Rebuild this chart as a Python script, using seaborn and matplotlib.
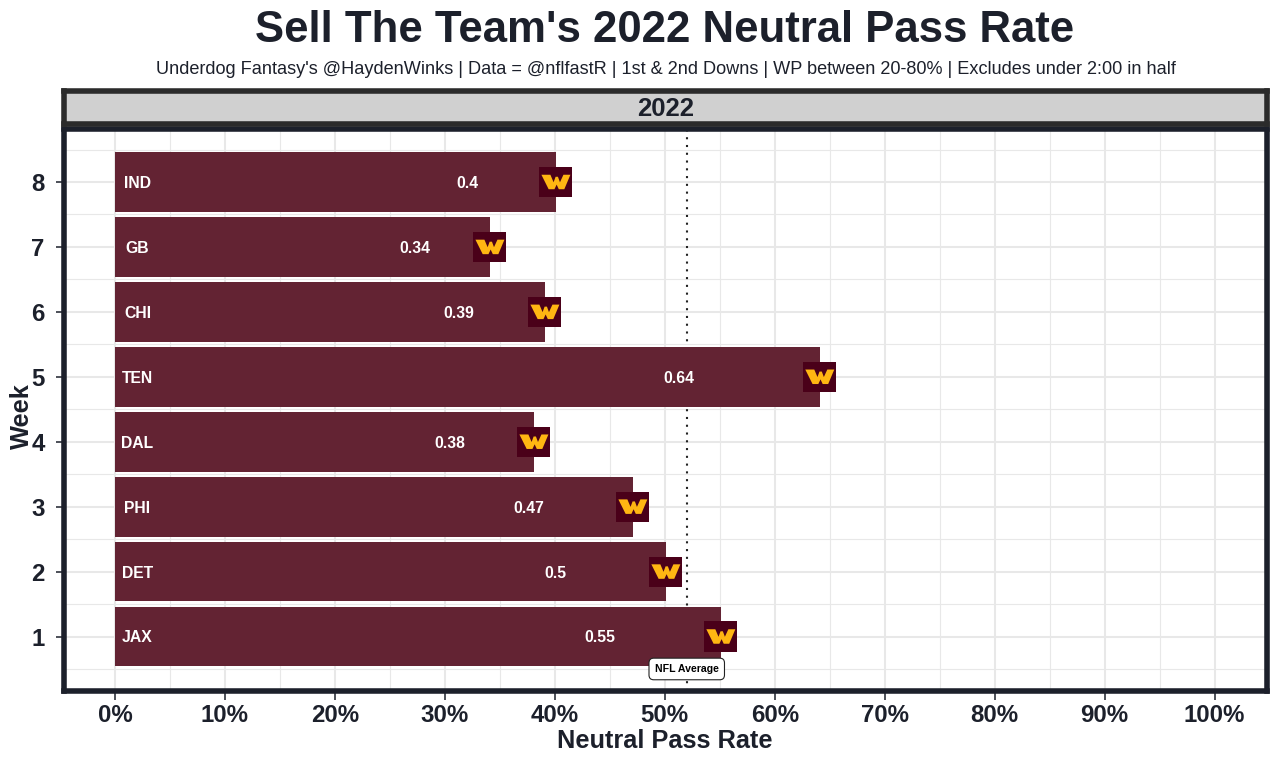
import matplotlib
matplotlib.use("Agg")
import matplotlib.pyplot as plt
from matplotlib.path import Path
import pandas as pd
import seaborn as sns

weeks = [8, 7, 6, 5, 4, 3, 2, 1]
opponents = ["IND", "GB", "CHI", "TEN", "DAL", "PHI", "DET", "JAX"]
pass_rate = [40.1, 34.1, 39.1, 64.1, 38.1, 47.1, 50.1, 55.1]
rate_labels = ["0.4", "0.34", "0.39", "0.64", "0.38", "0.47", "0.5", "0.55"]
nfl_average = 52
x_ticks = list(range(0, 101, 10))
x_tick_labels = [f"{v}%" for v in x_ticks]

INK = "#1c202b"
BAR = "#632333"
GRID = "#e8e8e8"

sns.set_theme(style="white")
plt.rcParams["font.family"] = ["Liberation Sans", "DejaVu Sans"]

W, H = 1280, 764
fig = plt.figure(figsize=(W / 100, H / 100), dpi=100, facecolor="white")
x0, x1, y_top, y_bot = 63.5, 1267, 129.5, 690.5
ax = fig.add_axes([x0 / W, 1 - y_bot / H, (x1 - x0) / W, (y_bot - y_top) / H])

px_per_x = 10.995
px_per_y = 64.93
ax.set_xlim((x0 - 115) / px_per_x, (x1 - 115) / px_per_x)
ax.set_ylim(1 - (y_bot - 636.5) / px_per_y, 1 + (636.5 - y_top) / px_per_y)

ax.set_xticks(x_ticks, x_tick_labels)
ax.set_yticks(sorted(weeks))
ax.set_xticks([v + 5 for v in x_ticks[:-1]], minor=True)
ax.set_yticks([w - 0.5 for w in sorted(weeks)] + [8.5], minor=True)
ax.grid(True, which="major", color=GRID, lw=1.5, zorder=0)
ax.grid(True, which="minor", color=GRID, lw=0.8, zorder=0)
ax.set_axisbelow(True)

df = pd.DataFrame({"week": weeks, "opp": opponents, "rate": pass_rate, "label": rate_labels})
ax.barh(df["week"], df["rate"], height=0.92, color=BAR, lw=0, zorder=2)

ax.axvline(nfl_average, color="#222222", lw=1.5, ls=(0, (1, 2.73)), zorder=1.5)

# team logo: dark square with a gold W, as custom markers placed at each value
box = Path([(-1, -0.91), (1, -0.91), (1, 0.91), (-1, 0.91), (-1, -0.91)], closed=True)
w_mark = Path(
    [(-1, .5), (-.38, .5), (-.16, -.02), (-.02, .36), (.14, .36), (.28, -.02), (.52, .5), (1, .5),
     (.58, -.5), (.2, -.5), (.05, -.18), (-.1, -.5), (-.5, -.5), (-1, .5)],
    closed=True,
)
sns.scatterplot(data=df, x="rate", y="week", marker=box, s=(33 * 0.72) ** 2, color="#4a0019",
                edgecolor="none", linewidth=0, zorder=4, ax=ax, legend=False)
sns.scatterplot(data=df, x="rate", y="week", marker=w_mark, s=(29 * 0.72) ** 2, color="#ffb612",
                edgecolor="none", linewidth=0, zorder=5, ax=ax, legend=False)

for _, r in df.iterrows():
    ax.text(2.05, r["week"], r["opp"], color="white", fontsize=11.3, fontweight="bold",
            ha="center", va="center_baseline", zorder=6)
    ax.text(r["rate"] * 0.8, r["week"], r["label"], color="white", fontsize=11.3, fontweight="bold",
            ha="center", va="center_baseline", zorder=6)

ax.text(nfl_average, 0.5, "NFL Average", color="black", fontsize=7.6, fontweight="bold",
        ha="center", va="center", zorder=7,
        bbox=dict(boxstyle="round,pad=0.55,rounding_size=0.45", fc="white", ec="#222222", lw=0.8))

for s in ax.spines.values():
    s.set_color(INK)
    s.set_linewidth(4)
    s.set_zorder(8)

ax.tick_params(axis="x", which="major", length=6.5, width=1.1, color=INK, labelcolor=INK,
               labelsize=17.3, pad=3, bottom=True)
ax.tick_params(axis="y", which="major", length=6, width=1.1, color=INK, labelcolor=INK,
               labelsize=17.3, pad=7.5, left=True)
ax.tick_params(axis="both", which="minor", length=0)
for t in ax.get_xticklabels() + ax.get_yticklabels():
    t.set_fontweight("bold")

ax.set_xlabel("")
ax.set_ylabel("")
fig.text(665 / W, 1 - 741 / H, "Neutral Pass Rate", color=INK, fontsize=18.3, fontweight="bold",
         ha="center", va="center")
fig.text(21.5 / W, 1 - 416 / H, "Week", color=INK, fontsize=18.3, fontweight="bold",
         ha="center", va="center", rotation=90)

# facet strip
strip = fig.add_axes([63.5 / W, 1 - 124 / H, (1267 - 63.5) / W, (124 - 90.5) / H])
strip.set_facecolor("#d0d0d0")
strip.set_xticks([])
strip.set_yticks([])
for s in strip.spines.values():
    s.set_color("#2b2b2b")
    s.set_linewidth(4)
strip.text(0.5, 0.44, "2022", transform=strip.transAxes, color=INK, fontsize=18.5, fontweight="bold",
           ha="center", va="center")

fig.text(665 / W, 1 - 31 / H, "Sell The Team's 2022 Neutral Pass Rate", color=INK, fontsize=31.5,
         fontweight="bold", ha="center", va="center")
fig.text(665.5 / W, 1 - 69.5 / H,
         "Underdog Fantasy's @HaydenWinks | Data = @nflfastR | 1st & 2nd Downs | WP between 20-80% | Excludes under 2:00 in half",
         color=INK, fontsize=13.1, ha="center", va="center")

fig.savefig("out.png", dpi=100, facecolor="white")
